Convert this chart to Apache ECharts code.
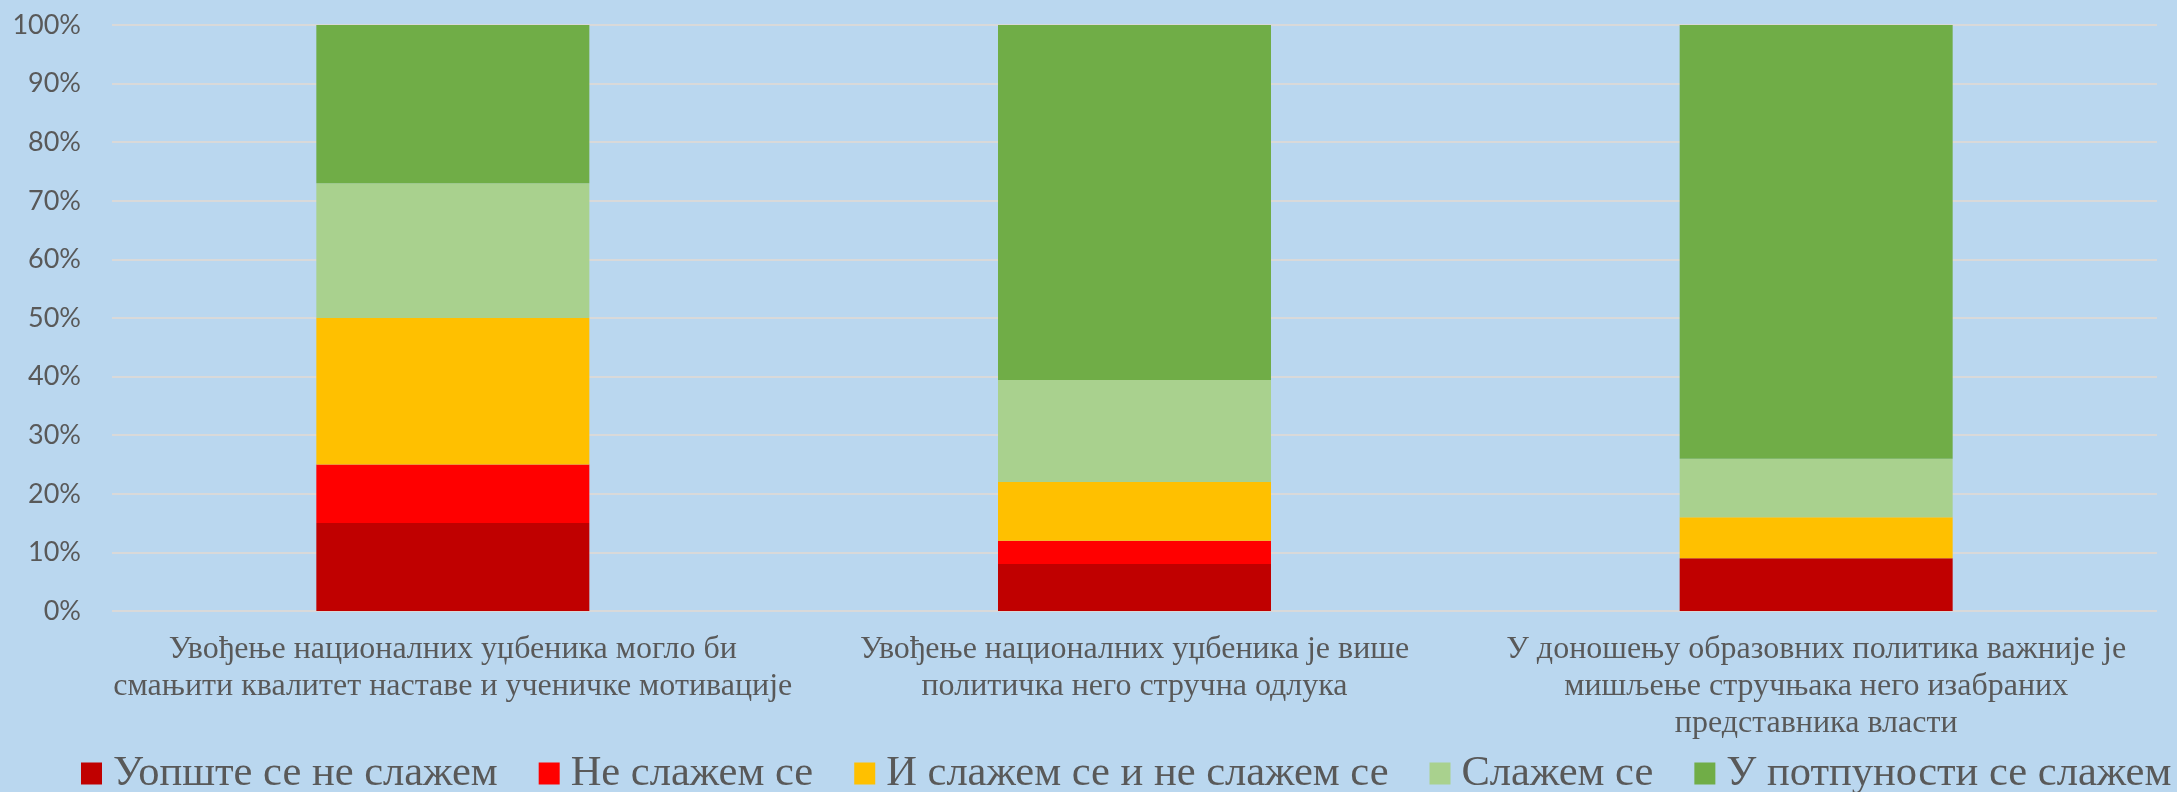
<!DOCTYPE html>
<html>
<head>
<meta charset="utf-8">
<script src="https://cdn.jsdelivr.net/npm/echarts@6/dist/echarts.min.js"></script>
<style>
  html, body { margin: 0; padding: 0; background: #BAD7EF; }
  #main { width: 2177px; height: 792px; }
</style>
</head>
<body>
<div id="main"></div>
<script>
// категорије (изјаве)
const categories = [
  'Увођење националних уџбеника могло би\nсмањити квалитет наставе и ученичке мотивације',
  'Увођење националних уџбеника је више\nполитичка него стручна одлука',
  'У доношењу образовних политика важније је\nмишљење стручњака него изабраних\nпредставника власти'
];

// проценти по одговорима
const uopsteNe = [15, 8, 9];
const neSlazem = [10, 4, 0];
const iSlazemINe = [25, 10, 7];
const slazem = [23, 17.4, 10];
const uPotpunosti = [27, 60.6, 74];

const seriesNames = ['Уопште се не слажем', 'Не слажем се', 'И слажем се и не слажем се', 'Слажем се', 'У потпуности се слажем'];
const seriesData = [uopsteNe, neSlazem, iSlazemINe, slazem, uPotpunosti];
const colors = ['#C00000', '#FF0000', '#FFC000', '#A9D18E', '#70AD47'];

const yTicks = { min: 0, max: 100, interval: 10 };

var myChart = echarts.init(document.getElementById('main'));

const option = {
  backgroundColor: '#BAD7EF',
  animation: false,
  color: colors,
  grid: {
    left: 112,
    right: 20,
    top: 25,
    bottom: 181
  },
  legend: {
    left: 81,
    top: 752,
    width: 2096,
    padding: 0,
    itemWidth: 21,
    itemHeight: 22,
    itemGap: 41,
    icon: 'rect',
    textStyle: {
      fontFamily: 'Liberation Serif',
      fontSize: 42.5,
      color: '#595959',
      padding: [0, 0, 0, 6]
    },
    data: seriesNames
  },
  xAxis: {
    type: 'category',
    data: categories,
    axisLine: { show: false },
    axisTick: { show: false },
    axisLabel: {
      margin: 20,
      fontFamily: 'Liberation Serif',
      fontSize: 32,
      lineHeight: 37,
      color: '#595959',
      interval: 0
    }
  },
  yAxis: {
    type: 'value',
    min: yTicks.min,
    max: yTicks.max,
    interval: yTicks.interval,
    axisLine: { show: false },
    axisTick: { show: false },
    axisLabel: {
      formatter: '{value}%',
      margin: 31,
      fontFamily: 'Lato',
      fontSize: 27,
      color: '#595959'
    },
    splitLine: {
      lineStyle: { color: '#D9D9D9', width: 2 }
    }
  },
  series: seriesNames.map(function (name, i) {
    return {
      name: name,
      type: 'bar',
      stack: 'total',
      barWidth: 273,
      data: seriesData[i],
      itemStyle: { color: colors[i] }
    };
  })
};

myChart.setOption(option);
</script>
</body>
</html>
